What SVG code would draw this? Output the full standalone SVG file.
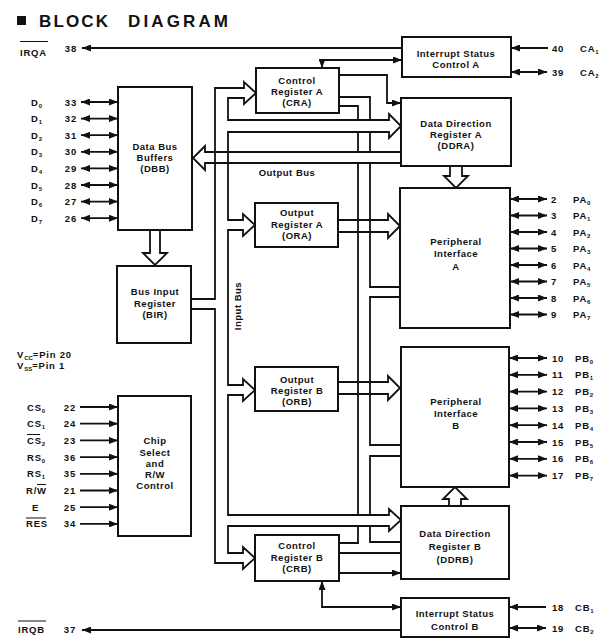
<svg xmlns="http://www.w3.org/2000/svg" width="603" height="640" viewBox="0 0 603 640">
<defs>
<marker id="ah" viewBox="0 0 9 7" refX="9" refY="3.5" markerWidth="9" markerHeight="7" markerUnits="userSpaceOnUse" orient="auto-start-reverse"><path d="M0,0 L9,3.5 L0,7 z" fill="#111"/></marker>
</defs>
<style>
.box{fill:#fff;stroke:#111;stroke-width:2}
.ln{fill:none;stroke:#111;stroke-width:1.8}
.a1{marker-end:url(#ah)}
.a2{marker-start:url(#ah);marker-end:url(#ah)}
text{font-family:"Liberation Sans",Arial,sans-serif;font-weight:bold;fill:#111}
.t{font-size:9.5px;text-anchor:middle;letter-spacing:0.5px}
.p{font-size:9.5px;letter-spacing:0.8px}
.n{font-size:9.5px;text-anchor:end;letter-spacing:0.8px}
.s{font-size:6px;letter-spacing:0}
.lab{font-size:9.5px;text-anchor:middle;letter-spacing:0.5px}
.ov{stroke:#111;stroke-width:1}
</style>
<rect width="603" height="640" fill="#fff"/>

<g id="title">
<rect x="17" y="16" width="9" height="9" fill="#111"/>
<text x="39" y="27" font-size="17" textLength="69" lengthAdjust="spacing">BLOCK</text>
<text x="128" y="27" font-size="17" textLength="100" lengthAdjust="spacing">DIAGRAM</text>
</g>

<g id="isca"><rect class="box" x="402" y="37" width="109" height="40"/>
<text class="t" x="456" y="57">Interrupt Status</text><text class="t" x="456" y="67.5">Control A</text></g>
<g id="cra"><rect class="box" x="256" y="68" width="83" height="45"/>
<text class="t" x="297" y="83.5">Control</text><text class="t" x="297" y="94.5">Register A</text><text class="t" x="297" y="105.5">(CRA)</text></g>
<g id="ddra"><rect class="box" x="401" y="98" width="110" height="68"/>
<text class="t" x="456" y="127">Data Direction</text><text class="t" x="456" y="138">Register A</text><text class="t" x="456" y="149">(DDRA)</text></g>
<g id="dbb"><rect class="box" x="118" y="87" width="74" height="143"/>
<text class="t" x="155" y="150">Data Bus</text><text class="t" x="155" y="161">Buffers</text><text class="t" x="155" y="172">(DBB)</text></g>
<g id="ora"><rect class="box" x="255" y="203" width="83" height="44"/>
<text class="t" x="297" y="216">Output</text><text class="t" x="297" y="228">Register A</text><text class="t" x="297" y="239">(ORA)</text></g>
<g id="pia"><rect class="box" x="400" y="188" width="110" height="140"/>
<text class="t" x="456" y="245">Peripheral</text><text class="t" x="456" y="257">Interface</text><text class="t" x="456" y="270">A</text></g>
<g id="bir"><rect class="box" x="117" y="266" width="74" height="77"/>
<text class="t" x="155" y="295">Bus Input</text><text class="t" x="155" y="306.5">Register</text><text class="t" x="155" y="318">(BIR)</text></g>
<g id="orb"><rect class="box" x="255" y="367" width="83" height="44"/>
<text class="t" x="297" y="383">Output</text><text class="t" x="297" y="394">Register B</text><text class="t" x="297" y="405">(ORB)</text></g>
<g id="pib"><rect class="box" x="401" y="347" width="108" height="140"/>
<text class="t" x="456" y="405">Peripheral</text><text class="t" x="456" y="417">Interface</text><text class="t" x="456" y="429">B</text></g>
<g id="cs"><rect class="box" x="118" y="396" width="73" height="140"/>
<text class="t" x="155" y="444">Chip</text><text class="t" x="155" y="456">Select</text><text class="t" x="155" y="467">and</text><text class="t" x="155" y="478">R/W</text><text class="t" x="155" y="489">Control</text></g>
<g id="ddrb"><rect class="box" x="401" y="506" width="108" height="73"/>
<text class="t" x="455" y="537">Data Direction</text><text class="t" x="455" y="549.5">Register B</text><text class="t" x="455" y="563">(DDRB)</text></g>
<g id="crb"><rect class="box" x="255" y="535" width="84" height="46"/>
<text class="t" x="297" y="549">Control</text><text class="t" x="297" y="560.5">Register B</text><text class="t" x="297" y="572">(CRB)</text></g>
<g id="iscb"><rect class="box" x="401" y="598" width="108" height="39"/>
<text class="t" x="455" y="617">Interrupt Status</text><text class="t" x="455" y="630">Control B</text></g>

<g id="connectors">
<!-- input bus -->
<path class="ln" d="M191,299 H215 V88 H244 V82 L256,93 L244,104 V98 H228 V120 H389 V114 L401,126 L389,138 V132 H228 V220 H243 V214 L255,225 L243,236 V230 H228 V385 H243 V379 L255,390 L243,401 V395 H228 V515 H389 V509 L401,520 L389,531 V526 H228 V553 H243 V547 L255,558 L243,569 V563 H215 V309 H191"/>
<!-- output bus -->
<path class="ln" d="M339,106 H358 V120 M358,132 V152 M339,97 H370 V120 M370,132 V152"/>
<path class="ln" d="M401,152 H205 V146 L193,158 L205,170 V163 H401"/>
<path class="ln" d="M358,163 V515 M358,526 V543 H339"/>
<path class="ln" d="M370,163 V287 H400 M400,297 H370 V445 H401 M401,456 H370 V515 M370,526 V542 H401"/>
<!-- register to peripheral hollow arrows -->
<path class="ln" d="M338,220 H388 V214 L400,226 L388,238 V232 H338"/>
<path class="ln" d="M338,382 H388 V376 L400,388 L388,400 V394 H338"/>
<path class="ln" d="M150,230 V253 H143 L155,265 L167,253 H160 V230"/>
<path class="ln" d="M450,166 V176 H444 L456,188 L468,176 H462 V166"/>
<path class="ln" d="M449,506 V499 H443 L455,487 L467,499 H461 V506"/>
<!-- control lines -->
<path class="ln a1" d="M339,75 H387 V103 H401"/>
<path class="ln a2" d="M322,68 V60 H402"/>
<path class="ln a1" d="M402,48 H82"/>
<path class="ln a1" d="M548,48 H511"/>
<path class="ln a2" d="M511,72 H547"/>
<path class="ln" d="M339,553 H401"/>
<path class="ln a1" d="M339,573 H401"/>
<path class="ln a2" d="M322,581 V607 H401"/>
<path class="ln a1" d="M401,630 H82"/>
<path class="ln a1" d="M546,607 H509"/>
<path class="ln a2" d="M509,628 H546"/>
<!-- data pins -->
<path class="ln a2" d="M81,102 H118"/>
<path class="ln a2" d="M81,118.6 H118"/>
<path class="ln a2" d="M81,135.2 H118"/>
<path class="ln a2" d="M81,151.8 H118"/>
<path class="ln a2" d="M81,168.4 H118"/>
<path class="ln a2" d="M81,185 H118"/>
<path class="ln a2" d="M81,201.6 H118"/>
<path class="ln a2" d="M81,218.2 H118"/>
<!-- chip select pins -->
<path class="ln a1" d="M80,407 H118"/>
<path class="ln a1" d="M80,423.7 H118"/>
<path class="ln a1" d="M80,440.4 H118"/>
<path class="ln a1" d="M80,457.1 H118"/>
<path class="ln a1" d="M80,473.8 H118"/>
<path class="ln a1" d="M80,490.5 H118"/>
<path class="ln a1" d="M80,507.2 H118"/>
<path class="ln a1" d="M80,523.9 H118"/>
<!-- PA pins -->
<path class="ln a2" d="M510,199 H547"/>
<path class="ln a2" d="M510,215.5 H547"/>
<path class="ln a2" d="M510,232 H547"/>
<path class="ln a2" d="M510,248.5 H547"/>
<path class="ln a2" d="M510,265 H547"/>
<path class="ln a2" d="M510,281.5 H547"/>
<path class="ln a2" d="M510,298 H547"/>
<path class="ln a2" d="M510,314.5 H547"/>
<!-- PB pins -->
<path class="ln a2" d="M509,358 H547"/>
<path class="ln a2" d="M509,374.8 H547"/>
<path class="ln a2" d="M509,391.6 H547"/>
<path class="ln a2" d="M509,408.4 H547"/>
<path class="ln a2" d="M509,425.2 H547"/>
<path class="ln a2" d="M509,442 H547"/>
<path class="ln a2" d="M509,458.8 H547"/>
<path class="ln a2" d="M509,475.6 H547"/>
</g>

<g id="bus-labels">
<text class="lab" x="287" y="176">Output Bus</text>
<text class="lab" transform="translate(241,306) rotate(-90)">Input Bus</text>
</g>

<g id="left-pins">
<text class="p" x="20" y="56">IRQA</text><line class="ov" x1="20" y1="41.5" x2="48" y2="41.5"/>
<text class="n" x="77" y="52">38</text>
<text class="p" x="31" y="105.5">D<tspan class="s" dy="2">0</tspan></text><text class="n" x="77" y="105.5">33</text>
<text class="p" x="31" y="122">D<tspan class="s" dy="2">1</tspan></text><text class="n" x="77" y="122">32</text>
<text class="p" x="31" y="138.7">D<tspan class="s" dy="2">2</tspan></text><text class="n" x="77" y="138.7">31</text>
<text class="p" x="31" y="155.3">D<tspan class="s" dy="2">3</tspan></text><text class="n" x="77" y="155.3">30</text>
<text class="p" x="31" y="171.9">D<tspan class="s" dy="2">4</tspan></text><text class="n" x="77" y="171.9">29</text>
<text class="p" x="31" y="188.5">D<tspan class="s" dy="2">5</tspan></text><text class="n" x="77" y="188.5">28</text>
<text class="p" x="31" y="205.1">D<tspan class="s" dy="2">6</tspan></text><text class="n" x="77" y="205.1">27</text>
<text class="p" x="31" y="221.7">D<tspan class="s" dy="2">7</tspan></text><text class="n" x="77" y="221.7">26</text>
<text class="p" x="17" y="358">V<tspan class="s" dy="2">CC</tspan><tspan dy="-2">=Pin 20</tspan></text>
<text class="p" x="17" y="369">V<tspan class="s" dy="2">SS</tspan><tspan dy="-2">=Pin 1</tspan></text>
<text class="p" x="27" y="410.5">CS<tspan class="s" dy="2">0</tspan></text><text class="n" x="76" y="410.5">22</text>
<text class="p" x="27" y="427.2">CS<tspan class="s" dy="2">1</tspan></text><text class="n" x="76" y="427.2">24</text>
<text class="p" x="27" y="443.9">CS<tspan class="s" dy="2">2</tspan></text><text class="n" x="76" y="443.9">23</text><line class="ov" x1="27" y1="434.5" x2="40" y2="434.5"/>
<text class="p" x="27" y="460.6">RS<tspan class="s" dy="2">0</tspan></text><text class="n" x="76" y="460.6">36</text>
<text class="p" x="27" y="477.3">RS<tspan class="s" dy="2">1</tspan></text><text class="n" x="76" y="477.3">35</text>
<text class="p" x="26" y="494">R/W</text><text class="n" x="76" y="494">21</text><line class="ov" x1="37" y1="484.5" x2="46" y2="484.5"/>
<text class="p" x="32" y="510.7">E</text><text class="n" x="76" y="510.7">25</text>
<text class="p" x="26" y="527.4">RES</text><text class="n" x="76" y="527.4">34</text><line class="ov" x1="26" y1="518" x2="46" y2="518"/>
<text class="p" x="18" y="633">IRQB</text><line class="ov" x1="18" y1="621" x2="46" y2="621"/>
<text class="n" x="76" y="633">37</text>
</g>

<g id="right-pins">
<text class="p" x="552" y="52">40</text><text class="p" x="580" y="52">CA<tspan class="s" dy="2">1</tspan></text>
<text class="p" x="552" y="76">39</text><text class="p" x="580" y="76">CA<tspan class="s" dy="2">2</tspan></text>
<text class="p" x="551" y="202.5">2</text><text class="p" x="573" y="202.5">PA<tspan class="s" dy="2">0</tspan></text>
<text class="p" x="551" y="219">3</text><text class="p" x="573" y="219">PA<tspan class="s" dy="2">1</tspan></text>
<text class="p" x="551" y="235.5">4</text><text class="p" x="573" y="235.5">PA<tspan class="s" dy="2">2</tspan></text>
<text class="p" x="551" y="252">5</text><text class="p" x="573" y="252">PA<tspan class="s" dy="2">3</tspan></text>
<text class="p" x="551" y="268.5">6</text><text class="p" x="573" y="268.5">PA<tspan class="s" dy="2">4</tspan></text>
<text class="p" x="551" y="285">7</text><text class="p" x="573" y="285">PA<tspan class="s" dy="2">5</tspan></text>
<text class="p" x="551" y="301.5">8</text><text class="p" x="573" y="301.5">PA<tspan class="s" dy="2">6</tspan></text>
<text class="p" x="551" y="318">9</text><text class="p" x="573" y="318">PA<tspan class="s" dy="2">7</tspan></text>
<text class="p" x="552" y="361.5">10</text><text class="p" x="575" y="361.5">PB<tspan class="s" dy="2">0</tspan></text>
<text class="p" x="552" y="378.3">11</text><text class="p" x="575" y="378.3">PB<tspan class="s" dy="2">1</tspan></text>
<text class="p" x="552" y="395.1">12</text><text class="p" x="575" y="395.1">PB<tspan class="s" dy="2">2</tspan></text>
<text class="p" x="552" y="411.9">13</text><text class="p" x="575" y="411.9">PB<tspan class="s" dy="2">3</tspan></text>
<text class="p" x="552" y="428.7">14</text><text class="p" x="575" y="428.7">PB<tspan class="s" dy="2">4</tspan></text>
<text class="p" x="552" y="445.5">15</text><text class="p" x="575" y="445.5">PB<tspan class="s" dy="2">5</tspan></text>
<text class="p" x="552" y="462.3">16</text><text class="p" x="575" y="462.3">PB<tspan class="s" dy="2">6</tspan></text>
<text class="p" x="552" y="479.1">17</text><text class="p" x="575" y="479.1">PB<tspan class="s" dy="2">7</tspan></text>
<text class="p" x="552" y="610.5">18</text><text class="p" x="575" y="610.5">CB<tspan class="s" dy="2">1</tspan></text>
<text class="p" x="552" y="631.5">19</text><text class="p" x="575" y="631.5">CB<tspan class="s" dy="2">2</tspan></text>
</g>
</svg>
